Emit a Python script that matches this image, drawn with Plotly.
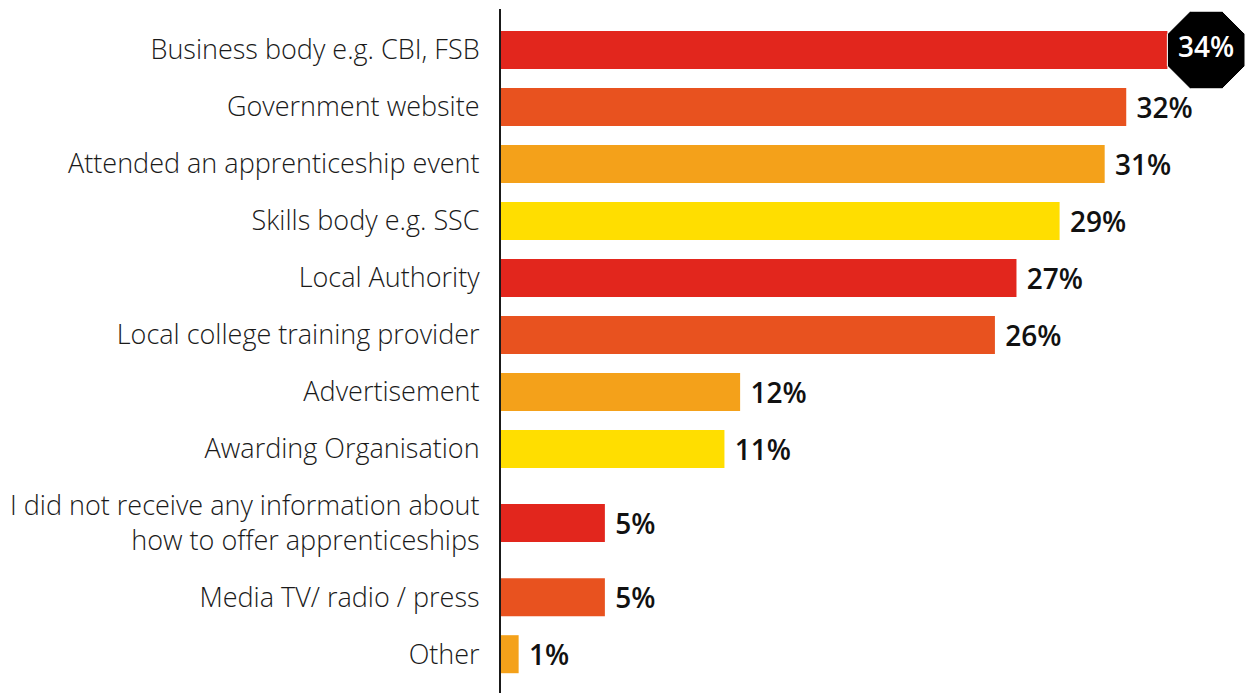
import plotly.graph_objects as go

# ---- data ----
categories = [
    "Business body e.g. CBI, FSB",
    "Government website",
    "Attended an apprenticeship event",
    "Skills body e.g. SSC",
    "Local Authority",
    "Local college training provider",
    "Advertisement",
    "Awarding Organisation",
    "I did not receive any information about<br>how to offer apprenticeships",
    "Media TV/ radio / press",
    "Other",
]
percent_labels = [34, 32, 31, 29, 27, 26, 12, 11, 5, 5, 1]          # printed values
bar_lengths = [34, 31.9, 30.8, 28.5, 26.3, 25.2, 12.2, 11.4, 5.3, 5.3, 0.9]  # as drawn
palette = ["#E2261D", "#E8521F", "#F4A11A", "#FFDE00"]

# ---- layout constants ----
W, H = 1247, 693
ML, MT = 501, 9
PX_PER_PCT = 19.6
X_MAX = (W - ML) / PX_PER_PCT
ROW_PX = 57
EXTRA_LINE = 0.6
OCT_SIZE = 84
FONT = "'Open Sans', Lato, sans-serif"

# row positions derived from number of label lines
heights = [1 + EXTRA_LINE * c.count("<br>") for c in categories]
pos = [0.0]
for i in range(1, len(categories)):
    pos.append(pos[-1] + (heights[i - 1] + heights[i]) / 2)
plot_h_units = (H - MT) / ROW_PX
top_pad = 41 / ROW_PX
y_range = [plot_h_units - top_pad, -top_pad]

colors = [palette[i % len(palette)] for i in range(len(categories))]
imax = max(range(len(percent_labels)), key=lambda i: percent_labels[i])
texts = ["" if i == imax else f" {v}%" for i, v in enumerate(percent_labels)]

fig = go.Figure()
fig.add_trace(go.Bar(
    x=bar_lengths, y=pos, orientation="h",
    marker=dict(color=colors, line=dict(width=0)),
    width=0.667,
    text=texts, textposition="outside",
    textfont=dict(family=FONT, size=28, color="#111111", weight=600),
    cliponaxis=False, hoverinfo="skip",
))

oct_x = bar_lengths[imax] + (OCT_SIZE * 0.92387 / 2) / PX_PER_PCT
fig.add_trace(go.Scatter(
    x=[oct_x], y=[pos[imax]], mode="markers+text",
    marker=dict(symbol="octagon", size=OCT_SIZE, color="#000000",
                line=dict(color="#ffffff", width=1)),
    text=[f"{percent_labels[imax]}%"], textposition="middle center",
    textfont=dict(family=FONT, size=28, color="#ffffff", weight=600),
    cliponaxis=False, hoverinfo="skip",
))

fig.update_layout(
    width=W, height=H,
    margin=dict(l=ML, r=0, t=MT, b=0),
    paper_bgcolor="white", plot_bgcolor="white",
    showlegend=False,
    xaxis=dict(range=[0, X_MAX], showgrid=False, zeroline=False,
               showticklabels=False, showline=False),
    yaxis=dict(range=y_range, tickvals=pos, ticktext=categories,
               showgrid=False, zeroline=False, showline=True,
               linecolor="#1a1a1a", linewidth=2, ticks="",
               ticklabelstandoff=14,
               tickfont=dict(family=FONT, size=27, color="#1a1a1a", weight=300)),
)

fig.write_html("out.html", config={"displayModeBar": False},
               post_script="document.body.style.margin='0';document.body.style.overflow='hidden';")
